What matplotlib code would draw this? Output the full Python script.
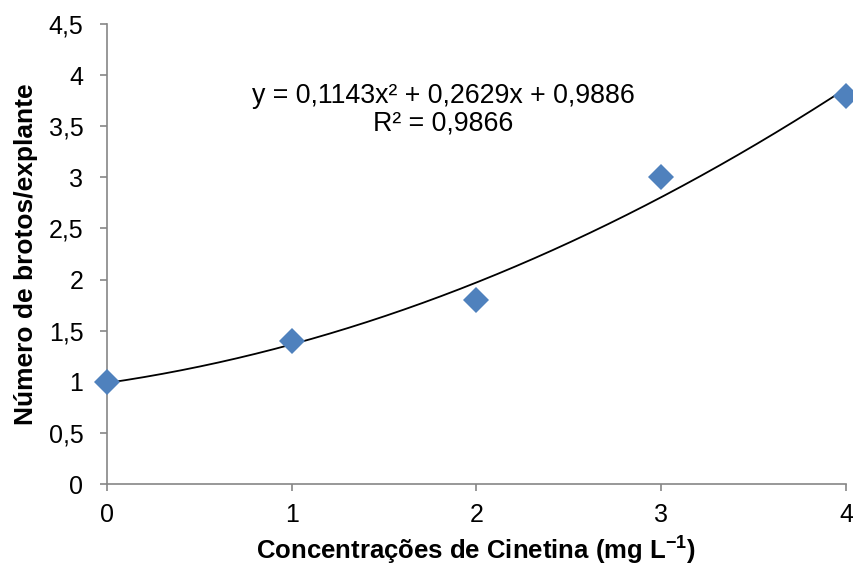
import numpy as np
import matplotlib
matplotlib.use("Agg")
import matplotlib.pyplot as plt

plt.rcParams['font.family'] = ['Liberation Sans', 'DejaVu Sans']
plt.rcParams['mathtext.fontset'] = 'custom'
plt.rcParams['mathtext.rm'] = 'Liberation Sans'
plt.rcParams['mathtext.bf'] = 'Liberation Sans:bold'

# dados
conc = [0, 1, 2, 3, 4]
brotos = [1.0, 1.4, 1.8, 3.0, 3.8]
coef = [0.1143, 0.2629, 0.9886]   # linha de tendencia polinomial (ordem 2)
r2 = 0.9866
yticks = [0, 0.5, 1, 1.5, 2, 2.5, 3, 3.5, 4, 4.5]

fig = plt.figure(figsize=(8.54, 5.67), dpi=100)
ax = fig.add_axes([107/854, 1-484/567, (846-107)/854, (484-24)/567])

xs = np.linspace(0, 4, 200)
ax.plot(xs, np.polyval(coef, xs), color='black', lw=1.3, zorder=2)
ax.plot(conc, brotos, 'D', color='#4F81BD', markersize=13, markeredgewidth=0, zorder=3,
        clip_on=False)

ax.set_xlim(0, 4)
ax.set_ylim(0, 4.5)
ax.set_xticks(conc)
ax.set_yticks(yticks)
ax.set_yticklabels([('%g' % v).replace('.', ',') for v in yticks])

for s in ['top', 'right']:
    ax.spines[s].set_visible(False)
for s in ['left', 'bottom']:
    ax.spines[s].set_color('#868686')
    ax.spines[s].set_linewidth(1.2)
ax.tick_params(direction='out', length=5, width=1.2, color='#868686', labelsize=18)
ax.tick_params(axis='y', pad=12)
ax.tick_params(axis='x', pad=9)

eq = 'y = %s' % ('%.4fx² + %.4fx + %.4f' % tuple(coef)).replace('.', ',')
ax.text(1.82, 3.80, eq, ha='center', va='center', fontsize=19.3)
ax.text(1.82, 3.53, ('R² = %.4f' % r2).replace('.', ','), ha='center', va='center', fontsize=19.3)

ax.set_xlabel(r'Concentrações de Cinetina (mg L$^{\mathbf{-1}}$)', fontsize=18.5,
              fontweight='bold', labelpad=4)
ax.set_ylabel('Número de brotos/explante', fontsize=19, fontweight='bold', labelpad=8)

fig.savefig('out.png', dpi=100)
